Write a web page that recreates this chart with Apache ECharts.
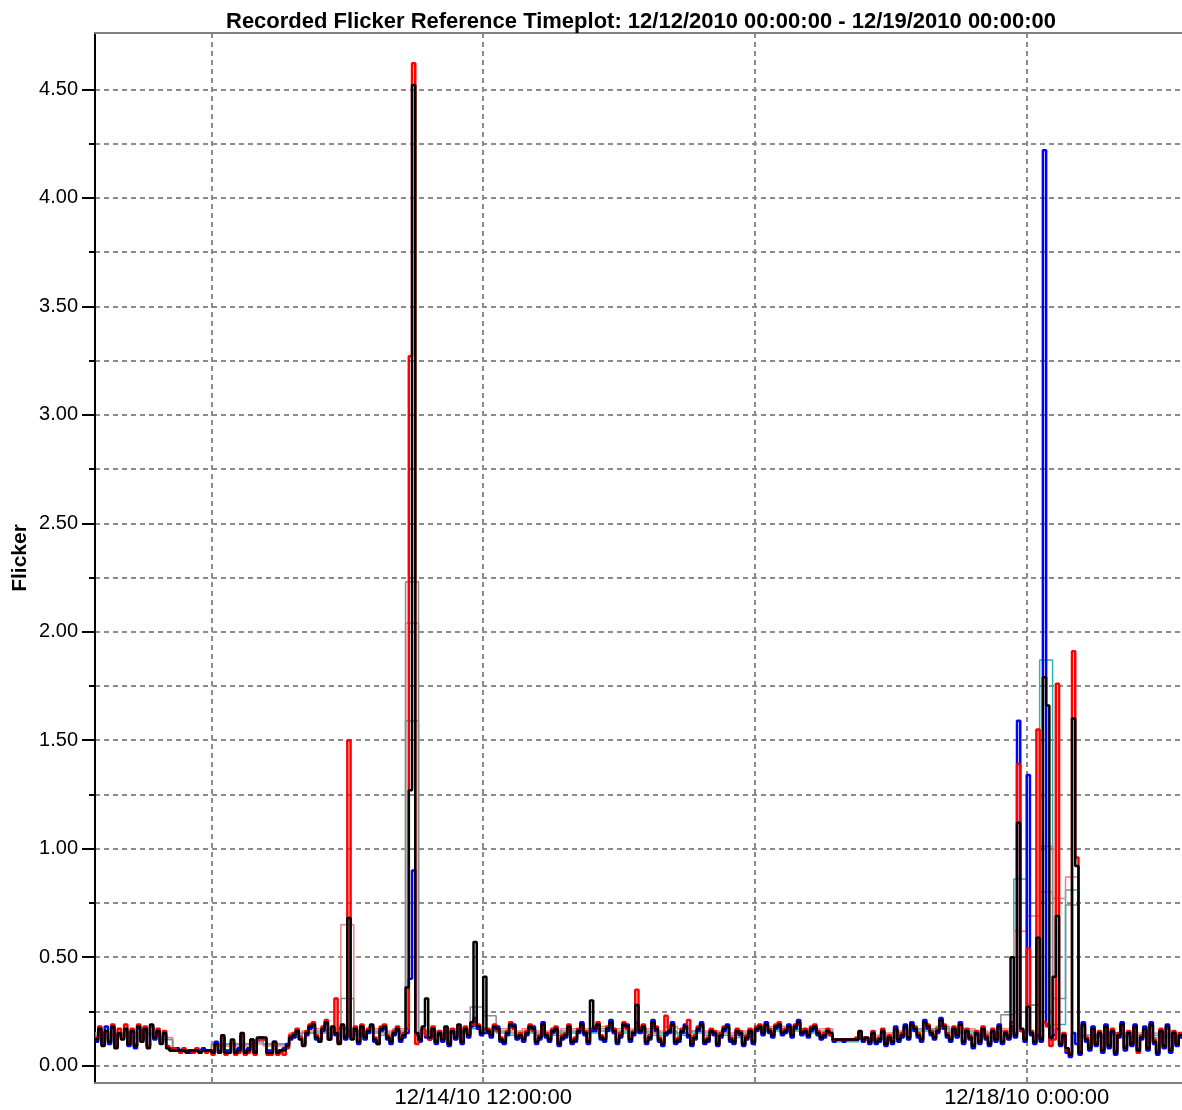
<!DOCTYPE html>
<html><head><meta charset="utf-8">
<script src="https://cdn.jsdelivr.net/npm/echarts@6/dist/echarts.min.js"></script>
<style>html,body{margin:0;padding:0;background:#fff}#c{width:1182px;height:1110px}</style>
</head><body><div id="c"></div><script>
// time in hours since 12/12/2010 00:00; phase data every 0.5 h, Plt every 2 h
const TITLE = 'Recorded Flicker Reference Timeplot: 12/12/2010 00:00:00 - 12/19/2010 00:00:00';
const Y_NAME = 'Flicker';
const STEP_PST = 0.5;
const STEP_PLT = 2;
const X_GRID = [18, 60, 102, 144];
const X_LABEL_VALUES = [60, 144];
const X_LABEL_TEXT = ['12/14/10 12:00:00', '12/18/10 0:00:00'];
const Y_MAJOR = [0, 0.5, 1, 1.5, 2, 2.5, 3, 3.5, 4, 4.5];
const Y_MINOR = [0, 0.25, 0.5, 0.75, 1, 1.25, 1.5, 1.75, 2, 2.25, 2.5, 2.75, 3, 3.25, 3.5, 3.75, 4, 4.25, 4.5];

const pstBlack = [
0.12,0.17,0.09,0.16,0.11,0.18,0.08,0.15,0.12,0.17,0.10,0.16,
0.09,0.18,0.11,0.17,0.08,0.19,0.13,0.16,0.10,0.15,0.08,0.07,
0.07,0.07,0.07,0.07,0.06,0.07,0.07,0.07,0.06,0.07,0.07,0.07,
0.06,0.10,0.06,0.14,0.06,0.06,0.12,0.06,0.07,0.15,0.06,0.07,
0.12,0.06,0.13,0.13,0.13,0.06,0.06,0.11,0.06,0.07,0.07,0.09,
0.13,0.14,0.16,0.12,0.09,0.15,0.18,0.19,0.13,0.11,0.17,0.20,
0.12,0.18,0.15,0.10,0.19,0.13,0.68,0.12,0.17,0.11,0.18,0.13,
0.16,0.19,0.12,0.10,0.17,0.18,0.13,0.11,0.15,0.17,0.12,0.14,
0.36,1.27,4.52,0.15,0.12,0.18,0.31,0.13,0.17,0.11,0.15,0.12,
0.18,0.10,0.16,0.13,0.19,0.11,0.17,0.14,0.20,0.57,0.18,0.15,
0.41,0.16,0.14,0.18,0.17,0.12,0.11,0.15,0.19,0.18,0.13,0.14,
0.12,0.15,0.18,0.17,0.11,0.13,0.19,0.14,0.12,0.16,0.17,0.10,
0.13,0.14,0.18,0.11,0.12,0.16,0.19,0.15,0.11,0.30,0.17,0.19,
0.13,0.12,0.17,0.20,0.16,0.11,0.14,0.19,0.18,0.12,0.15,0.28,
0.16,0.18,0.11,0.13,0.20,0.17,0.12,0.10,0.15,0.16,0.19,0.11,
0.12,0.16,0.18,0.14,0.10,0.13,0.17,0.19,0.11,0.12,0.16,0.15,
0.10,0.14,0.17,0.18,0.12,0.11,0.16,0.15,0.10,0.13,0.16,0.11,
0.17,0.18,0.15,0.19,0.16,0.14,0.18,0.19,0.15,0.16,0.18,0.14,
0.18,0.20,0.15,0.16,0.14,0.17,0.18,0.15,0.13,0.14,0.16,0.15,
0.12,0.12,0.12,0.12,0.12,0.12,0.12,0.12,0.16,0.12,0.13,0.11,
0.15,0.11,0.12,0.16,0.10,0.13,0.11,0.17,0.12,0.14,0.18,0.13,
0.19,0.17,0.14,0.12,0.20,0.18,0.15,0.13,0.16,0.21,0.18,0.14,
0.12,0.17,0.14,0.19,0.11,0.16,0.13,0.09,0.15,0.11,0.17,0.13,
0.10,0.16,0.12,0.18,0.11,0.15,0.13,0.50,0.14,1.12,0.17,0.12,
0.27,0.15,0.11,0.59,0.12,1.79,1.66,0.13,0.41,0.69,0.10,0.14,
0.08,0.05,1.60,0.92,0.06,0.19,0.12,0.08,0.17,0.10,0.15,0.07,
0.18,0.09,0.16,0.06,0.14,0.19,0.08,0.15,0.10,0.18,0.07,0.13,
0.17,0.08,0.19,0.11,0.06,0.16,0.09,0.18,0.07,0.15,0.10,0.14
];
const pstRed = [
0.13,0.18,0.10,0.15,0.12,0.19,0.09,0.17,0.13,0.19,0.11,0.17,
0.10,0.19,0.12,0.18,0.09,0.18,0.14,0.17,0.11,0.16,0.09,0.08,
0.08,0.07,0.06,0.08,0.06,0.07,0.06,0.08,0.06,0.07,0.06,0.07,
0.05,0.09,0.06,0.13,0.05,0.06,0.11,0.05,0.06,0.14,0.05,0.06,
0.11,0.05,0.12,0.12,0.12,0.05,0.05,0.10,0.05,0.06,0.05,0.08,
0.14,0.15,0.17,0.13,0.10,0.16,0.19,0.20,0.14,0.12,0.18,0.21,
0.13,0.17,0.31,0.11,0.18,0.14,1.50,0.13,0.18,0.12,0.19,0.14,
0.17,0.18,0.13,0.11,0.18,0.19,0.14,0.12,0.16,0.18,0.13,0.15,
0.17,3.27,4.62,0.10,0.13,0.17,0.14,0.12,0.18,0.12,0.16,0.13,
0.17,0.11,0.17,0.14,0.18,0.12,0.18,0.15,0.19,0.20,0.19,0.16,
0.17,0.17,0.15,0.19,0.16,0.13,0.12,0.16,0.20,0.17,0.14,0.15,
0.13,0.16,0.19,0.16,0.12,0.14,0.18,0.15,0.13,0.17,0.18,0.11,
0.14,0.15,0.19,0.12,0.13,0.17,0.18,0.16,0.12,0.17,0.18,0.20,
0.14,0.13,0.18,0.19,0.17,0.12,0.15,0.20,0.17,0.13,0.16,0.35,
0.17,0.19,0.12,0.14,0.19,0.18,0.13,0.11,0.23,0.17,0.18,0.12,
0.13,0.17,0.17,0.21,0.11,0.14,0.18,0.18,0.12,0.13,0.17,0.16,
0.11,0.15,0.18,0.17,0.13,0.12,0.17,0.16,0.11,0.14,0.17,0.12,
0.18,0.19,0.16,0.18,0.17,0.15,0.19,0.20,0.16,0.17,0.17,0.15,
0.19,0.19,0.16,0.17,0.15,0.18,0.19,0.16,0.14,0.15,0.17,0.14,
0.12,0.12,0.12,0.12,0.12,0.12,0.12,0.13,0.15,0.13,0.12,0.12,
0.16,0.12,0.13,0.17,0.11,0.14,0.12,0.16,0.13,0.15,0.17,0.14,
0.18,0.18,0.15,0.13,0.19,0.19,0.16,0.14,0.17,0.20,0.19,0.15,
0.13,0.18,0.15,0.18,0.12,0.17,0.14,0.10,0.16,0.12,0.18,0.14,
0.11,0.17,0.13,0.17,0.12,0.16,0.14,0.20,0.15,1.39,0.16,0.13,
0.54,0.16,0.12,1.55,0.13,0.20,0.18,0.09,0.12,1.76,0.11,0.15,
0.07,0.06,1.91,0.96,0.07,0.18,0.13,0.09,0.16,0.11,0.16,0.08,
0.17,0.10,0.17,0.07,0.15,0.18,0.09,0.16,0.11,0.17,0.06,0.14,
0.16,0.09,0.18,0.12,0.07,0.17,0.10,0.17,0.08,0.16,0.11,0.15
];
const pstBlue = [
0.11,0.16,0.10,0.18,0.10,0.17,0.09,0.14,0.13,0.16,0.09,0.15,
0.08,0.17,0.12,0.16,0.09,0.18,0.12,0.15,0.11,0.14,0.08,0.07,
0.07,0.08,0.07,0.07,0.07,0.06,0.07,0.07,0.07,0.08,0.07,0.07,
0.07,0.11,0.07,0.13,0.07,0.07,0.11,0.07,0.08,0.14,0.07,0.08,
0.12,0.07,0.12,0.13,0.12,0.07,0.07,0.11,0.07,0.07,0.08,0.10,
0.12,0.13,0.15,0.13,0.10,0.14,0.17,0.18,0.12,0.12,0.16,0.19,
0.12,0.17,0.14,0.11,0.18,0.12,0.16,0.13,0.16,0.10,0.17,0.12,
0.15,0.18,0.11,0.10,0.16,0.17,0.12,0.10,0.14,0.16,0.11,0.13,
0.15,0.40,0.90,0.14,0.11,0.17,0.13,0.12,0.16,0.10,0.14,0.11,
0.16,0.09,0.15,0.12,0.18,0.10,0.16,0.13,0.18,0.22,0.17,0.14,
0.15,0.15,0.13,0.17,0.18,0.11,0.10,0.14,0.18,0.19,0.12,0.13,
0.11,0.14,0.17,0.18,0.10,0.12,0.20,0.13,0.11,0.15,0.16,0.09,
0.12,0.13,0.17,0.10,0.11,0.15,0.20,0.14,0.10,0.16,0.16,0.18,
0.12,0.11,0.16,0.21,0.15,0.10,0.13,0.18,0.19,0.11,0.14,0.20,
0.15,0.17,0.10,0.12,0.21,0.16,0.11,0.09,0.14,0.15,0.20,0.10,
0.11,0.15,0.19,0.13,0.09,0.12,0.16,0.20,0.10,0.11,0.15,0.14,
0.09,0.13,0.16,0.19,0.11,0.10,0.15,0.14,0.09,0.12,0.15,0.10,
0.16,0.17,0.14,0.20,0.15,0.13,0.17,0.18,0.14,0.15,0.19,0.13,
0.17,0.21,0.14,0.15,0.13,0.16,0.17,0.14,0.12,0.13,0.15,0.14,
0.11,0.12,0.12,0.11,0.12,0.12,0.12,0.12,0.15,0.11,0.12,0.10,
0.14,0.10,0.11,0.15,0.09,0.12,0.10,0.18,0.11,0.13,0.19,0.12,
0.20,0.16,0.13,0.11,0.21,0.17,0.14,0.12,0.15,0.22,0.17,0.13,
0.11,0.16,0.13,0.20,0.10,0.15,0.12,0.08,0.14,0.10,0.16,0.12,
0.09,0.15,0.11,0.19,0.10,0.14,0.12,0.18,0.13,1.59,0.16,0.11,
1.34,0.14,0.10,0.14,0.11,4.22,0.19,0.12,0.14,0.17,0.09,0.13,
0.06,0.04,0.15,0.10,0.05,0.20,0.11,0.07,0.18,0.09,0.14,0.06,
0.19,0.08,0.15,0.05,0.13,0.20,0.07,0.14,0.09,0.19,0.08,0.12,
0.18,0.07,0.20,0.10,0.05,0.15,0.08,0.19,0.06,0.14,0.09,0.13
];
const pltGrey = [
0.14,0.14,0.14,0.14,0.15,0.12,0.07,0.07,0.07,0.10,0.10,0.10,
0.11,0.10,0.10,0.14,0.15,0.16,0.15,0.31,0.15,0.16,0.15,0.16,
2.23,0.16,0.15,0.16,0.16,0.27,0.23,0.16,0.15,0.16,0.15,0.15,
0.16,0.16,0.16,0.17,0.16,0.16,0.16,0.15,0.16,0.15,0.16,0.15,
0.15,0.14,0.15,0.17,0.17,0.17,0.17,0.16,0.16,0.12,0.12,0.13,
0.13,0.14,0.15,0.17,0.17,0.18,0.16,0.16,0.15,0.14,0.235,0.50,
0.28,1.01,0.31,0.74,0.14,0.14,0.15,0.14,0.14,0.14,0.14,0.14
];
const pltSalmon = [
0.15,0.15,0.15,0.15,0.16,0.13,0.07,0.07,0.07,0.09,0.09,0.09,
0.10,0.09,0.09,0.15,0.16,0.17,0.17,0.65,0.16,0.17,0.16,0.17,
2.04,0.16,0.16,0.17,0.17,0.18,0.17,0.17,0.16,0.17,0.16,0.16,
0.17,0.17,0.17,0.18,0.17,0.17,0.17,0.16,0.18,0.17,0.16,0.16,
0.16,0.15,0.16,0.18,0.18,0.18,0.17,0.17,0.17,0.12,0.12,0.13,
0.14,0.15,0.16,0.17,0.17,0.18,0.17,0.17,0.16,0.15,0.17,0.62,
0.69,0.80,0.77,0.87,0.14,0.14,0.15,0.15,0.15,0.15,0.15,0.15
];
const pltCyan = [
0.13,0.14,0.13,0.13,0.14,0.12,0.07,0.07,0.07,0.10,0.10,0.10,
0.11,0.10,0.10,0.13,0.15,0.15,0.14,0.17,0.14,0.15,0.14,0.15,
1.59,0.15,0.14,0.15,0.15,0.17,0.16,0.15,0.14,0.15,0.14,0.14,
0.15,0.15,0.15,0.16,0.15,0.15,0.15,0.14,0.15,0.14,0.15,0.14,
0.14,0.13,0.14,0.16,0.16,0.16,0.16,0.15,0.15,0.11,0.11,0.12,
0.12,0.13,0.14,0.16,0.16,0.17,0.15,0.15,0.14,0.13,0.16,0.86,
0.28,1.87,0.19,0.81,0.13,0.13,0.14,0.13,0.13,0.13,0.13,0.13
];

function toPairs(arr, dt) {
  const d = arr.map((v, i) => [i * dt, v]);
  d.push([arr.length * dt, arr[arr.length - 1]]);
  return d;
}
const FONT = '"Liberation Sans", Arial, sans-serif';
const gridLine = { color: '#8c8c8c', type: [5, 4], width: 2 };

function stepSeries(name, arr, dt, color, width, z) {
  return { name, type: 'line', step: 'end', data: toPairs(arr, dt), showSymbol: false, symbol: 'none',
    lineStyle: { color, width }, itemStyle: { color }, z, silent: true, clip: true };
}

const chart = echarts.init(document.getElementById('c'), null, { renderer: 'canvas' });
chart.setOption({
  animation: false,
  backgroundColor: '#ffffff',
  title: { text: TITLE, left: 221, top: 6,
    textStyle: { fontFamily: FONT, fontWeight: 'bold', fontSize: 22, color: '#000' } },
  grid: { left: 95, right: -5, top: 33, bottom: 27, containLabel: false },
  xAxis: [
    { type: 'value', min: 0, max: 168, position: 'bottom',
      axisLine: { show: true, onZero: false, lineStyle: { color: '#808080', width: 2 } },
      axisTick: { show: false, customValues: X_GRID },
      axisLabel: { customValues: X_LABEL_VALUES, margin: 4, fontFamily: FONT, fontSize: 22, color: '#000',
        formatter: v => { const k = X_LABEL_VALUES.indexOf(v); return k >= 0 ? X_LABEL_TEXT[k] : ''; } },
      splitLine: { show: true, lineStyle: gridLine } },
    { type: 'value', min: 0, max: 168, position: 'top',
      axisLine: { show: true, onZero: false, lineStyle: { color: '#808080', width: 2 } },
      axisTick: { show: false }, axisLabel: { show: false }, splitLine: { show: false } }
  ],
  yAxis: [
    { type: 'value', min: -0.08, max: 4.76, position: 'left',
      name: Y_NAME, nameLocation: 'middle', nameGap: 64, nameRotate: 90,
      nameTextStyle: { fontFamily: FONT, fontWeight: 'bold', fontSize: 21, color: '#000' },
      axisLine: { show: true, onZero: false, lineStyle: { color: '#000', width: 2 } },
      axisTick: { show: true, customValues: Y_MINOR, length: 6, lineStyle: { color: '#000', width: 2 } },
      axisLabel: { show: false },
      splitLine: { show: true, lineStyle: gridLine } },
    { type: 'value', min: -0.08, max: 4.76, position: 'left',
      axisLine: { show: false, onZero: false },
      axisTick: { show: true, customValues: Y_MAJOR, length: 13, lineStyle: { color: '#000', width: 2 } },
      axisLabel: { customValues: Y_MAJOR, margin: 17, fontFamily: FONT, fontSize: 20, color: '#000',
        formatter: v => v.toFixed(2) },
      splitLine: { show: false } }
  ],
  series: [
    stepSeries('Plt C', pltCyan, STEP_PLT, '#2ab3b3', 1.5, 2),
    stepSeries('Plt A', pltSalmon, STEP_PLT, '#f08080', 1.5, 3),
    stepSeries('Plt B', pltGrey, STEP_PLT, '#8c8c8c', 1.5, 4),
    stepSeries('Pst C', pstBlue, STEP_PST, '#0000ff', 2.5, 5),
    stepSeries('Pst A', pstRed, STEP_PST, '#ff0000', 2.5, 6),
    stepSeries('Pst B', pstBlack, STEP_PST, '#000000', 2.5, 7)
  ]
});
</script></body></html>
